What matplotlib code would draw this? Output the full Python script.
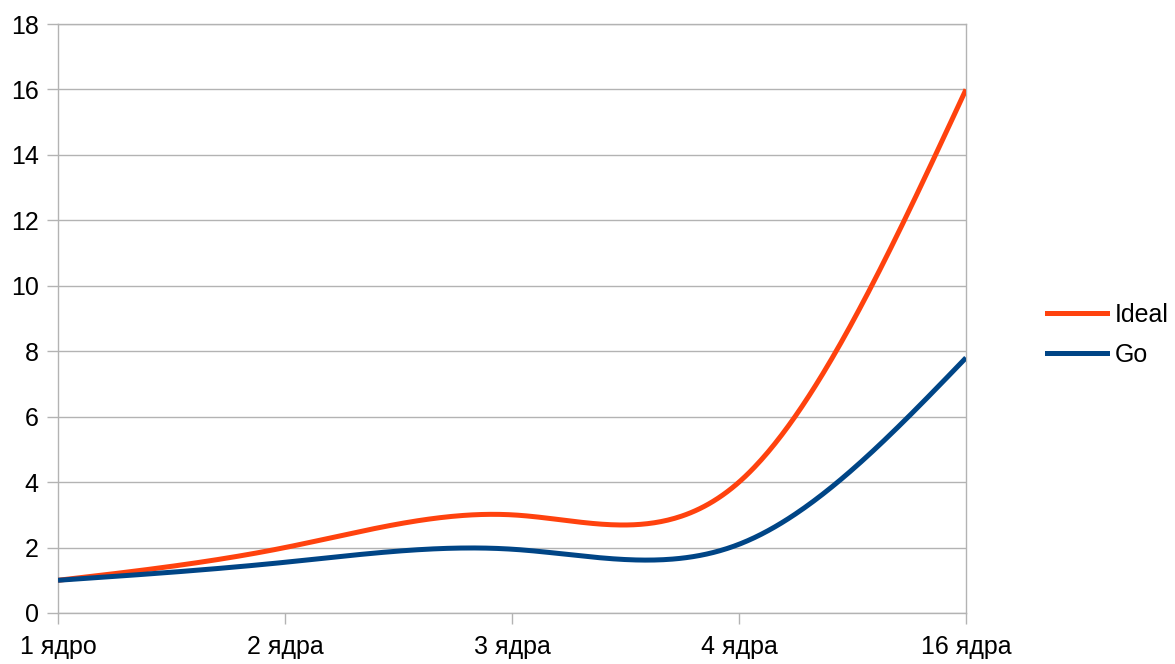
import numpy as np
import matplotlib
matplotlib.use("Agg")
import matplotlib.pyplot as plt
from matplotlib.lines import Line2D

categories = ["1 ядро", "2 ядра", "3 ядра", "4 ядра", "16 ядра"]
ideal = [1, 2, 3, 4, 16]
go = [1, 1.55, 1.95, 2.1, 7.8]
y_ticks = [0, 2, 4, 6, 8, 10, 12, 14, 16, 18]

def natural_spline(x, y, n=400):
    x = np.asarray(x, float); y = np.asarray(y, float)
    k = len(x); h = np.diff(x)
    A = np.zeros((k, k)); b = np.zeros(k)
    A[0, 0] = 1; A[-1, -1] = 1
    for i in range(1, k - 1):
        A[i, i - 1] = h[i - 1]; A[i, i] = 2 * (h[i - 1] + h[i]); A[i, i + 1] = h[i]
        b[i] = 3 * ((y[i + 1] - y[i]) / h[i] - (y[i] - y[i - 1]) / h[i - 1])
    c = np.linalg.solve(A, b)
    xs = np.linspace(x[0], x[-1], n); ys = np.empty_like(xs)
    for j, xv in enumerate(xs):
        i = min(np.searchsorted(x, xv, side="right") - 1, k - 2)
        dx = xv - x[i]
        bb = (y[i + 1] - y[i]) / h[i] - h[i] * (2 * c[i] + c[i + 1]) / 3
        d = (c[i + 1] - c[i]) / (3 * h[i])
        ys[j] = y[i] + bb * dx + c[i] * dx ** 2 + d * dx ** 3
    return xs, ys

plt.rcParams['font.family'] = ['Liberation Sans', 'DejaVu Sans']
fig = plt.figure(figsize=(11.75, 6.64), dpi=100)
ax = fig.add_axes([58/1175, 51/664, (966-58)/1175, (613-24)/664])

xpos = np.arange(len(categories))
orange = "#ff420e"
blue = "#004586"
xs, ys = natural_spline(xpos, ideal)
ax.plot(xs, ys, color=orange, lw=3.6, solid_capstyle="butt", zorder=3)
xs, ys = natural_spline(xpos, go)
ax.plot(xs, ys, color=blue, lw=3.6, solid_capstyle="butt", zorder=4)

ax.set_xlim(0, len(categories) - 1)
ax.set_ylim(0, 18)
ax.set_yticks(y_ticks)
ax.set_xticks(xpos)
ax.set_xticklabels(categories)
ax.grid(axis="y", color="#b3b3b3", lw=1)
ax.set_axisbelow(True)
for s in ax.spines.values():
    s.set_color("#b3b3b3"); s.set_linewidth(1)
ax.tick_params(axis="both", colors="#b3b3b3", labelcolor="black", labelsize=18, length=8, width=1)
ax.tick_params(axis="x", pad=8)
ax.tick_params(axis="y", pad=6)

handles = [Line2D([], [], color=orange, lw=3.6), Line2D([], [], color=blue, lw=3.6)]
fig.legend(handles, ["Ideal", "Go"], loc="center left", bbox_to_anchor=(1047/1175, 1 - 335/664),
           frameon=False, fontsize=18, handlelength=2.4, handletextpad=0.32, labelspacing=0.62,
           borderpad=0, borderaxespad=0)

fig.savefig("out.png", dpi=100)
